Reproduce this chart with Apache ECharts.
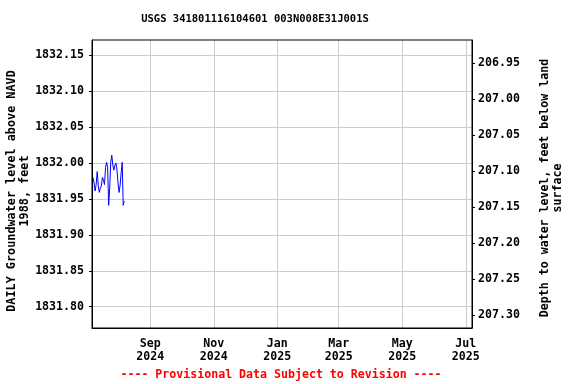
<!DOCTYPE html>
<html><head><meta charset="utf-8">
<script src="https://cdn.jsdelivr.net/npm/echarts@6/dist/echarts.min.js"></script>
<style>html,body{margin:0;padding:0;background:#fff}#c{width:576px;height:384px}</style>
</head><body><div id="c"></div>
<script>
const titleText = 'USGS 341801116104601 003N008E31J001S';
const dates = ['2024-07-08','2024-07-09','2024-07-10','2024-07-11','2024-07-12','2024-07-13','2024-07-14','2024-07-15','2024-07-16','2024-07-17','2024-07-18','2024-07-19','2024-07-20','2024-07-21','2024-07-22','2024-07-23','2024-07-24','2024-07-25','2024-07-26','2024-07-27','2024-07-28','2024-07-29','2024-07-30','2024-07-31','2024-08-01','2024-08-02','2024-08-03','2024-08-04','2024-08-05','2024-08-06','2024-08-07'];
const levels = [1831.980,1831.972,1831.961,1831.970,1831.988,1831.969,1831.959,1831.965,1831.968,1831.980,1831.976,1831.970,1831.994,1832.001,1831.994,1831.941,1831.965,1832.001,1832.011,1831.997,1831.990,1831.997,1832.000,1831.990,1831.972,1831.959,1831.969,1831.986,1832.001,1831.941,1831.947];
const monthTicks = ['2024-09-01','2024-11-01','2025-01-01','2025-03-01','2025-05-01','2025-07-01'];
const monthLabels = ['Sep\n2024','Nov\n2024','Jan\n2025','Mar\n2025','May\n2025','Jul\n2025'];
const leftTicks = [1831.80,1831.85,1831.90,1831.95,1832.00,1832.05,1832.10,1832.15];
const rightTicks = [206.95,207.00,207.05,207.10,207.15,207.20,207.25,207.30];
const xMin = '2024-07-07', xMax = '2025-07-07';
const yMin = 1831.7704, yMax = 1832.1711;
const datumSum = 2039.08875;

const ts = s => new Date(s + 'T00:00:00Z').getTime();
const monthTs = monthTicks.map(ts);
const labelMap = {};
monthTs.forEach((t,i)=>labelMap[t]=monthLabels[i]);
const font = 'DejaVu Sans Mono';
const fs = 11.6;
const chart = echarts.init(document.getElementById('c'));
chart.setOption({
  animation:false,
  grid:{left:92,top:40,width:380,height:288,show:false},
  xAxis:{type:'value',min:ts(xMin),max:ts(xMax),
    axisLine:{show:true,onZero:false,lineStyle:{color:'#000',width:1}},
    axisTick:{show:false,customValues:monthTs},
    splitLine:{show:true,lineStyle:{color:'#cccccc',width:1}},
    axisLabel:{customValues:monthTs,formatter:v=>labelMap[v]||'',color:'#000',fontFamily:font,fontWeight:'bold',fontSize:fs,lineHeight:13,margin:9,hideOverlap:false}
  },
  yAxis:[
    {type:'value',min:yMin,max:yMax,position:'left',
      axisLine:{show:true,onZero:false,lineStyle:{color:'#000'}},
      axisTick:{show:true,length:3,inside:false,customValues:leftTicks,lineStyle:{color:'#000'}},
      splitLine:{show:true,lineStyle:{color:'#cccccc'}},
      axisLabel:{customValues:leftTicks,formatter:v=>v.toFixed(2),color:'#000',fontFamily:font,fontWeight:'bold',fontSize:fs,margin:8}
    },
    {type:'value',min:datumSum-yMax,max:datumSum-yMin,inverse:true,position:'right',
      axisLine:{show:true,onZero:false,lineStyle:{color:'#000'}},
      axisTick:{show:true,length:3,customValues:rightTicks,lineStyle:{color:'#000'}},
      splitLine:{show:false},
      axisLabel:{customValues:rightTicks,formatter:v=>v.toFixed(2),color:'#000',fontFamily:font,fontWeight:'bold',fontSize:fs,margin:6}
    }
  ],
  series:[{type:'line',data:dates.map((d,i)=>[ts(d),levels[i]]),showSymbol:false,
    lineStyle:{color:'#0000ff',width:1},itemStyle:{color:'#0000ff'}}],
  graphic:[
    {type:'rect',shape:{x:92,y:40,width:380,height:288},style:{fill:'none',stroke:'#000',lineWidth:1},z:100},
    {type:'text',x:255,y:19,style:{text:titleText,fill:'#000',font:'bold 10.5px "DejaVu Sans Mono"',textAlign:'center',textVerticalAlign:'middle'}},
    {type:'text',x:18,y:191,rotation:Math.PI/2,style:{text:'DAILY Groundwater level above NAVD\n1988, feet',fill:'#000',font:'bold 11.8px "DejaVu Sans Mono"',textAlign:'center',textVerticalAlign:'middle',lineHeight:13}},
    {type:'text',x:551,y:188,rotation:Math.PI/2,style:{text:'Depth to water level, feet below land\nsurface',fill:'#000',font:'bold 11.6px "DejaVu Sans Mono"',textAlign:'center',textVerticalAlign:'middle',lineHeight:13}},
    {type:'text',x:281,y:375,style:{text:'---- Provisional Data Subject to Revision ----',fill:'#ff0000',font:'bold 11.6px "DejaVu Sans Mono"',textAlign:'center',textVerticalAlign:'middle'}}
  ]
});
</script></body></html>
